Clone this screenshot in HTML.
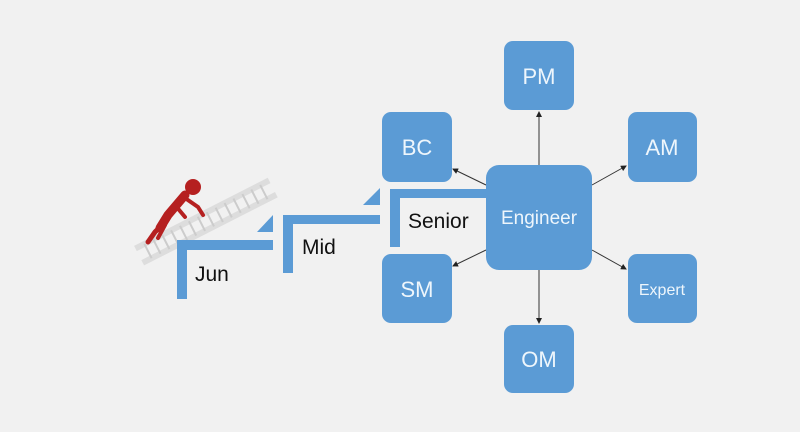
<!DOCTYPE html>
<html><head><style>
body{margin:0;background:#f1f1f1;}
svg{display:block}
text{font-family:"Liberation Sans",sans-serif;}
</style></head><body>
<svg width="800" height="432" viewBox="0 0 800 432">
<rect width="800" height="432" fill="#f1f1f1"/>
<defs><marker id="a" markerWidth="6" markerHeight="6" refX="5" refY="3" orient="auto"><path d="M0,0 L6,3 L0,6z" fill="#222"/></marker></defs>
<!-- ladder -->
<g transform="rotate(-27 200 210)">
<rect x="125" y="212" width="150" height="6" fill="#ddd"/>
<rect x="125" y="228" width="150" height="6" fill="#ddd"/>
<g stroke="#ccc" stroke-width="2">
<line x1="135" y1="215" x2="135" y2="231"/><line x1="145" y1="215" x2="145" y2="231"/><line x1="155" y1="215" x2="155" y2="231"/><line x1="165" y1="215" x2="165" y2="231"/><line x1="175" y1="215" x2="175" y2="231"/><line x1="185" y1="215" x2="185" y2="231"/><line x1="195" y1="215" x2="195" y2="231"/><line x1="205" y1="215" x2="205" y2="231"/><line x1="215" y1="215" x2="215" y2="231"/><line x1="225" y1="215" x2="225" y2="231"/><line x1="235" y1="215" x2="235" y2="231"/><line x1="245" y1="215" x2="245" y2="231"/><line x1="255" y1="215" x2="255" y2="231"/><line x1="265" y1="215" x2="265" y2="231"/>
</g></g>
<!-- figure -->
<g fill="#b52020" stroke="#b52020" stroke-linecap="round">
<circle cx="193" cy="187" r="8" stroke="none"/>
<path d="M185,195 L168,215 L160,228" stroke-width="9" fill="none"/>
<path d="M185,198 L198,207 L203,215" stroke-width="4" fill="none"/>
<path d="M175,205 L185,217" stroke-width="4" fill="none"/>
<path d="M162,225 L155,232 L148,242" stroke-width="5" fill="none"/>
<path d="M165,225 L158,238" stroke-width="4" fill="none"/>
</g>
<!-- steps -->
<g fill="#5b9bd5">
<rect x="177" y="240" width="96" height="10"/><rect x="177" y="240" width="10" height="59"/>
<polygon points="257,232 273,232 273,215"/>
<rect x="283" y="215" width="97" height="9"/><rect x="283" y="215" width="10" height="58"/>
<polygon points="363,205 380,205 380,188"/>
<rect x="390" y="189" width="100" height="9"/><rect x="390" y="189" width="10" height="58"/>
</g>
<g font-size="21" fill="#111">
<text x="195" y="281">Jun</text>
<text x="302" y="254">Mid</text>
<text x="408" y="228">Senior</text>
</g>
<!-- connectors -->
<g stroke="#333" stroke-width="1" marker-end="url(#a)">
<line x1="539" y1="165" x2="539" y2="112"/>
<line x1="539" y1="270" x2="539" y2="323"/>
<line x1="486" y1="185" x2="453" y2="169"/>
<line x1="486" y1="250" x2="453" y2="266"/>
<line x1="592" y1="185" x2="626" y2="166"/>
<line x1="592" y1="250" x2="626" y2="269"/>
</g>
<g fill="#5b9bd5">
<rect x="504" y="41" width="70" height="69" rx="9"/>
<rect x="382" y="112" width="70" height="70" rx="9"/>
<rect x="628" y="112" width="69" height="70" rx="9"/>
<rect x="486" y="165" width="106" height="105" rx="13"/>
<rect x="382" y="254" width="70" height="69" rx="9"/>
<rect x="628" y="254" width="69" height="69" rx="9"/>
<rect x="504" y="325" width="70" height="68" rx="9"/>
</g>
<g fill="#eef6fc" text-anchor="middle" font-size="22">
<text x="539" y="84">PM</text>
<text x="417" y="155">BC</text>
<text x="662" y="155">AM</text>
<text x="539" y="224" font-size="19">Engineer</text>
<text x="417" y="297">SM</text>
<text x="662" y="295" font-size="16">Expert</text>
<text x="539" y="367">OM</text>
</g>
</svg>
</body></html>
